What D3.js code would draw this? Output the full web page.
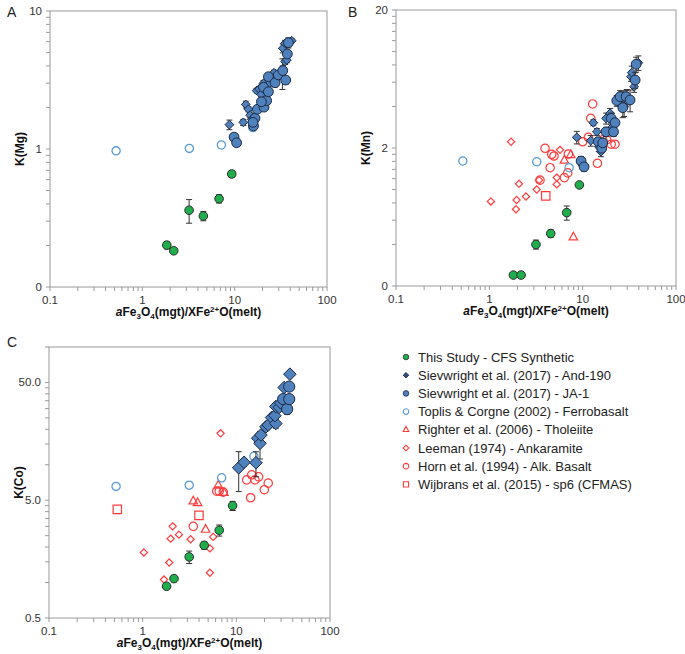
<!DOCTYPE html>
<html><head><meta charset="utf-8">
<script src="https://cdn.jsdelivr.net/npm/d3@7"></script>
<style>
body{margin:0;background:#fff}
text{font-family:'Liberation Sans',Arial,Helvetica,sans-serif}
</style>
</head><body>
<svg id="chart" width="685" height="654"></svg>
<script>
// ---------- DATA ----------
const xTickValues = [0.1, 1, 10, 100];
const xTickLabels = ["0.1", "1", "10", "100"];
const yBasesA = [0.1, 1, 10], yLabelsA = ["0", "1", "10"];
const yBasesB = [0.2, 2, 20], yLabelsB = ["0", "2", "20"];
const yBasesC = [0.5, 5, 50], yLabelsC = ["0.5", "5.0", "50.0"];
const legendLabels = [
  "This Study - CFS Synthetic",
  "Sievwright et al. (2017) - And-190",
  "Sievwright et al. (2017) - JA-1",
  "Toplis & Corgne (2002) - Ferrobasalt",
  "Righter et al. (2006) - Tholeiite",
  "Leeman (1974) - Ankaramite",
  "Horn et al. (1994) - Alk. Basalt",
  "Wijbrans et al. (2015) - sp6 (CFMAS)"
];
// [x, y, err]
const A_green = [[1.84,0.201,0.012],[2.19,0.183,0.006],[3.21,0.36,0.07],[4.58,0.327,0.025],[6.78,0.436,0.03],[9.29,0.659,0.035]];
const A_and190 = [[8.77,1.50,0.12],[12.4,1.56,0.08],[13.2,2.10,0.12],[14.1,1.94,0.08],[14.7,1.76,0.06],[15.3,1.64,0.08],[17.3,2.65,0.1],[18.4,2.72,0.12],[19.3,2.49,0.1],[20.5,2.99,0.15],[22.2,2.60,0.1],[26.1,3.16,0.2],[26.7,3.57,0.15],[28.6,3.38,0.15],[32.9,3.60,0.9],[33.2,5.37,0.4],[35.2,4.30,0.2],[36.7,4.42,0.2],[35.2,5.83,0.3],[41.5,6.09,0.2],[24.0,3.0,0.15]];
const A_ja1 = [[9.85,1.22,0.06],[10.5,1.11,0.05],[16.0,1.47,0],[16.6,1.67,0.08],[17.6,1.94,0],[20.8,2.01,0.1],[22.2,2.24,0],[20.5,2.80,0.1],[23.2,2.60,0],[23.2,3.34,0.15],[27.4,3.02,0.2],[29.7,3.44,0],[33.2,3.70,0.3],[37.2,4.88,0],[35.7,3.16,0.2],[38.2,5.89,0.5],[15.8,1.56,0.05],[19.5,2.2,0.1]];
const A_toplis = [[0.52,0.97],[3.23,1.01],[7.18,1.07],[15.7,1.43]];

const B_green = [[1.81,0.24,0],[2.19,0.24,0],[3.16,0.40,0.03],[4.55,0.48,0.03],[6.75,0.68,0.08],[9.22,1.08,0]];
const B_and190 = [[8.65,2.39,0.25],[12.2,2.26,0.2],[13.0,3.05,0.15],[14.2,2.62,0.15],[14.9,2.04,0.15],[15.7,1.88,0.15],[17.8,3.28,0.3],[19.7,3.57,0.3],[21.0,2.85,0.2],[26.2,4.71,0.4],[27.8,3.98,0.6],[29.7,4.71,0.6],[33.0,6.58,0.5],[33.6,7.03,0.8],[35.6,5.56,0.5],[39.5,8.30,1.0]];
const B_ja1 = [[9.62,1.61,0.12],[10.35,1.46,0.1],[14.7,2.22,0.15],[16.0,1.99,0],[16.4,2.18,0.15],[17.8,2.62,0.2],[20.2,3.28,0.3],[22.2,3.05,0.2],[21.4,2.62,0.2],[23.2,4.41,0.4],[26.9,3.92,0.6],[25.2,4.71,0.5],[29.2,4.71,0.5],[32.2,4.46,0.8],[36.5,6.22,0.8],[37.4,8.09,1.0]];
const B_toplis = [[0.52,1.61],[3.22,1.59],[7.15,1.44]];
const B_righter = [[7.45,1.78],[6.37,1.62],[7.95,0.45]];
const B_leeman = [[1.04,0.82],[1.96,0.84],[1.93,0.72],[2.08,1.10],[2.47,0.89],[3.22,1.0],[3.41,1.17],[1.71,2.22],[5.28,1.22],[5.28,1.09],[5.72,1.94]];
const B_horn = [[3.95,1.99],[4.66,1.80],[4.93,1.75],[4.48,1.44],[3.49,1.17],[6.37,1.22],[6.92,1.32],[7.03,1.81],[10.0,2.22],[11.5,2.39],[12.8,4.17],[12.2,3.28],[14.4,1.55],[15.4,2.22],[16.4,2.29],[18.1,2.29],[20.2,2.13],[22.2,2.13]];
const B_wijbrans = [[4.02,0.90]];

const C_green = [[1.80,0.93,0.03],[2.16,1.08,0.03],[3.14,1.65,0.2],[4.54,2.07,0.15],[6.57,2.78,0.3],[9.12,4.49,0.4]];
const C_and190 = [[10.6,9.42,3.5],[12.1,10.5,0.8],[16.2,10.4,2.5],[16.9,16.8,1],[17.9,15.2,4],[18.3,17.9,1],[20.7,21.0,1.2],[21.9,21.8,0],[23.8,25.2,0],[26.4,22.4,2],[25.8,26.1,2],[26.4,31.2,0],[28.7,30.7,0],[29.9,33.4,0],[32.4,45.3,0],[37.3,58.8,0]];
const C_ja1 = [[31.6,36.1,0],[34.9,29.7,3],[36.7,36.1,0],[36.7,46.1,0]];
const C_toplis = [[0.52,6.55],[3.14,6.71],[6.97,7.75],[15.4,11.8]];
const C_righter = [[3.47,4.89],[3.86,4.72],[4.70,2.81],[6.41,6.67],[7.38,5.78]];
const C_leeman = [[1.03,1.80],[2.09,3.0],[2.44,2.55],[1.99,2.36],[3.25,2.33],[1.92,1.48],[1.69,1.06],[5.66,2.44],[5.22,1.95],[5.22,1.21],[6.79,18.5]];
const C_horn = [[3.47,3.0],[6.17,5.97],[6.57,5.97],[7.25,5.86],[12.9,7.45],[14.6,8.22],[15.8,7.45],[17.3,7.9],[14.2,5.25],[19.9,6.14],[21.9,6.98]];
const C_wijbrans = [[0.536,4.18],[3.99,3.72]];

// ---------- STYLES ----------
const RED = "#ff3b3b", BLUE = "#4f81bd", BLUEDARK = "#1c2a45", GREEN = "#1fae4b", TOPLIS = "#5b9bd5";
const styles = {
  green:   {shape:"circle",  size:4.3, fill:GREEN, stroke:"#2b2b2b", sw:1},
  and190:  {shape:"diamond", size:4.4, fill:BLUE,  stroke:BLUEDARK, sw:1},
  ja1:     {shape:"circle",  size:4.9, fill:BLUE,  stroke:BLUEDARK, sw:1},
  toplis:  {shape:"circle",  size:4.1, fill:"none", stroke:TOPLIS, sw:1.3},
  righter: {shape:"triangle",size:8.5, fill:"none", stroke:RED, sw:1.2},
  leeman:  {shape:"diamond", size:3.6, fill:"none", stroke:RED, sw:1.2},
  horn:    {shape:"circle",  size:4.2, fill:"none", stroke:RED, sw:1.2},
  wijbrans:{shape:"square",  size:4.2, fill:"none", stroke:RED, sw:1.2}
};
const legendKeys = ["green","and190","ja1","toplis","righter","leeman","horn","wijbrans"];

function shapePath(shape, s) {
  if (shape === "circle") return d3.symbol(d3.symbolCircle, Math.PI*s*s)();
  if (shape === "diamond") return `M0,${-s}L${s},0L0,${s}L${-s},0Z`;
  if (shape === "triangle") return `M0,${-s*0.6}L${s/2},${s*0.3}L${-s/2},${s*0.3}Z`;
  if (shape === "square") return `M${-s},${-s}h${2*s}v${2*s}h${-2*s}Z`;
}

const svg = d3.select("#chart");

function drawPanel(p) {
  const g = svg.append("g");
  const x = d3.scaleLog().domain([0.1,100]).range([p.left, p.right]);
  const y = d3.scaleLog().domain(p.yDomain).range([p.bottom, p.top]);
  const axisColor = "#9a9a9a";
  g.append("rect").attr("x",p.left).attr("y",p.top).attr("width",p.right-p.left).attr("height",p.bottom-p.top)
    .attr("fill","none").attr("stroke",axisColor).attr("stroke-width",1);
  const xt = [];
  [0.1,1,10].forEach(b => { for (let k=1;k<=9;k++) xt.push(b*k); });
  xt.push(100);
  g.selectAll(null).data(xt).enter().append("line")
    .attr("x1",d=>x(d)).attr("x2",d=>x(d)).attr("y1",p.bottom).attr("y2",p.bottom+4)
    .attr("stroke",axisColor);
  g.selectAll(null).data(xTickValues).enter().append("text")
    .attr("x",d=>x(d)).attr("y",p.bottom+17).attr("text-anchor","middle")
    .attr("font-size",11.5).attr("fill","#333").text((d,i)=>xTickLabels[i]);
  const yt = [];
  p.yBases.forEach(b => { for (let k=1;k<=9;k++) { const v=b*k; if (v<=p.yDomain[1]*1.0001) yt.push(v);} });
  g.selectAll(null).data(yt).enter().append("line")
    .attr("x1",p.left-4).attr("x2",p.left).attr("y1",d=>y(d)).attr("y2",d=>y(d))
    .attr("stroke",axisColor);
  g.selectAll(null).data(p.yBases).enter().append("text")
    .attr("x",p.left-8).attr("y",d=>y(d)+4).attr("text-anchor","end")
    .attr("font-size",11.5).attr("fill","#333").text((d,i)=>p.yLabels[i]);
  const cy = (p.top+p.bottom)/2;
  g.append("text").attr("transform",`translate(${p.left-26},${cy}) rotate(-90)`)
    .attr("text-anchor","middle").attr("font-size",12).attr("font-weight","bold").attr("fill","#111").text(p.ytitle);
  const xt2 = g.append("text").attr("x",(p.left+p.right)/2).attr("y",p.bottom+29)
    .attr("text-anchor","middle").attr("font-size",12).attr("font-weight","bold").attr("fill","#111");
  xt2.append("tspan").attr("font-style","italic").text("a");
  xt2.append("tspan").text("Fe");
  xt2.append("tspan").attr("font-size",8).attr("dy",3).text("3");
  xt2.append("tspan").attr("dy",-3).text("O");
  xt2.append("tspan").attr("font-size",8).attr("dy",3).text("4");
  xt2.append("tspan").attr("dy",-3).text("(mgt)/XFe");
  xt2.append("tspan").attr("font-size",8).attr("dy",-4).text("2+");
  xt2.append("tspan").attr("dy",4).text("O(melt)");
  svg.append("text").attr("x",p.lx).attr("y",p.ly).attr("font-size",14).attr("fill","#222").text(p.letter);

  p.series.forEach(s => {
    const st = Object.assign({}, styles[s.key], s.size ? {size:s.size} : {});
    const sg = g.append("g");
    const eb = s.data.filter(d => d[2] && d[2] > 0);
    eb.forEach(d => {
      const y1 = y(Math.max(d[1]-d[2], p.yDomain[0])), y2 = y(d[1]+d[2]), cx = x(d[0]);
      sg.append("line").attr("x1",cx).attr("x2",cx).attr("y1",y1).attr("y2",y2).attr("stroke","#333").attr("stroke-width",1);
      [y1,y2].forEach(yy => sg.append("line").attr("x1",cx-3).attr("x2",cx+3).attr("y1",yy).attr("y2",yy).attr("stroke","#333").attr("stroke-width",1));
    });
    sg.selectAll(null).data(s.data).enter().append("path")
      .attr("d", shapePath(st.shape, st.size))
      .attr("transform", d => `translate(${x(d[0])},${y(d[1])})`)
      .attr("fill", st.fill).attr("stroke", st.stroke).attr("stroke-width", st.sw);
  });
}

drawPanel({left:50, right:327, top:11, bottom:287, yDomain:[0.1,10], yBases:yBasesA, yLabels:yLabelsA,
  ytitle:"K(Mg)", letter:"A", lx:7, ly:17,
  series:[{key:"toplis",data:A_toplis},{key:"green",data:A_green},{key:"and190",data:A_and190},{key:"ja1",data:A_ja1}]});
drawPanel({left:396, right:676, top:10, bottom:286, yDomain:[0.2,20], yBases:yBasesB, yLabels:yLabelsB,
  ytitle:"K(Mn)", letter:"B", lx:348, ly:17,
  series:[{key:"righter",data:B_righter},{key:"leeman",data:B_leeman},{key:"horn",data:B_horn},{key:"wijbrans",data:B_wijbrans},
          {key:"toplis",data:B_toplis},{key:"green",data:B_green},{key:"and190",data:B_and190},{key:"ja1",data:B_ja1}]});
drawPanel({left:49, right:330, top:347, bottom:618, yDomain:[0.5,100], yBases:yBasesC, yLabels:yLabelsC,
  ytitle:"K(Co)", letter:"C", lx:7, ly:347,
  series:[{key:"righter",data:C_righter},{key:"leeman",data:C_leeman},{key:"horn",data:C_horn},{key:"wijbrans",data:C_wijbrans},
          {key:"toplis",data:C_toplis},{key:"green",data:C_green},{key:"and190",data:C_and190,size:6.3},{key:"ja1",data:C_ja1,size:5.6}]});

// legend
const lg = svg.append("g");
legendKeys.forEach((k,i) => {
  const st = styles[k];
  const yy = 357 + i*18.2;
  const sz = st.shape==="triangle" ? 5.5 : (st.shape==="square" ? 2.6 : 2.8);
  lg.append("path").attr("d", shapePath(st.shape, sz)).attr("transform",`translate(406,${yy})`)
    .attr("fill", k==="and190" ? "#2f4d7e" : st.fill).attr("stroke", st.stroke).attr("stroke-width", st.fill==="none"?1.1:0.8);
  lg.append("text").attr("x",418).attr("y",yy+4.5).attr("font-size",13).attr("fill","#222").text(legendLabels[i]);
});
</script>
</body></html>
